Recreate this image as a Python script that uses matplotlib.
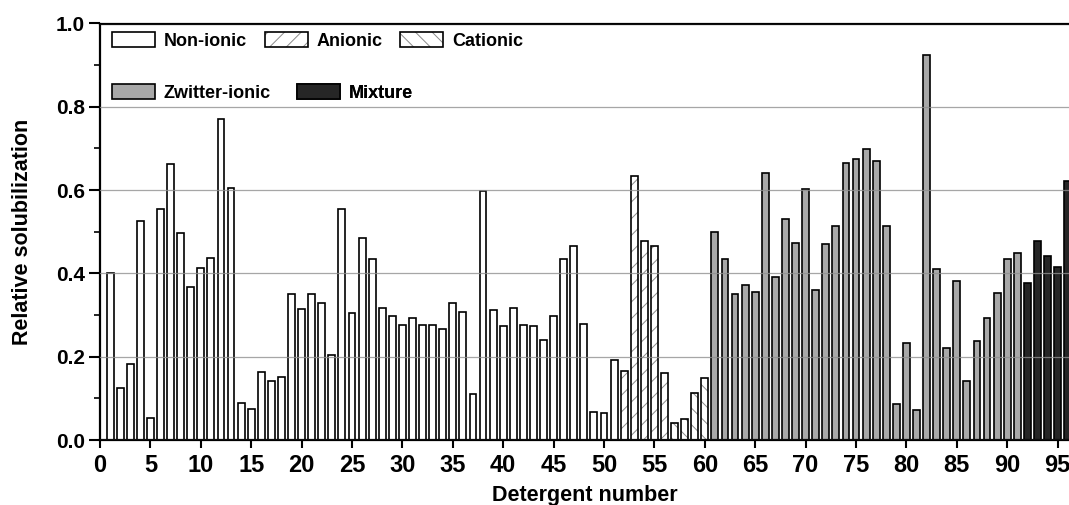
import matplotlib
matplotlib.use("Agg")
import matplotlib.pyplot as plt
from matplotlib.ticker import MultipleLocator
from matplotlib.legend_handler import HandlerTuple

# relative solubilization per detergent, grouped by detergent class
nonionic_ids = list(range(1, 52))
nonionic_vals = [0.400, 0.126, 0.182, 0.525, 0.054, 0.554, 0.662, 0.498, 0.367, 0.414,
                 0.438, 0.770, 0.606, 0.090, 0.075, 0.163, 0.142, 0.152, 0.350, 0.314,
                 0.350, 0.329, 0.203, 0.554, 0.305, 0.485, 0.434, 0.317, 0.298, 0.275,
                 0.294, 0.276, 0.277, 0.266, 0.328, 0.307, 0.110, 0.599, 0.312, 0.274,
                 0.317, 0.275, 0.274, 0.240, 0.298, 0.434, 0.466, 0.279, 0.068, 0.066,
                 0.191]
anionic_ids = [52, 53, 54, 55, 56]
anionic_vals = [0.166, 0.634, 0.478, 0.466, 0.161]
cationic_ids = [57, 58, 59, 60]
cationic_vals = [0.042, 0.051, 0.114, 0.150]
zwitter_ids = list(range(61, 92))
zwitter_vals = [0.500, 0.435, 0.350, 0.371, 0.356, 0.642, 0.391, 0.530, 0.474, 0.602,
                0.359, 0.470, 0.514, 0.665, 0.674, 0.698, 0.669, 0.514, 0.086, 0.232,
                0.072, 0.925, 0.411, 0.222, 0.381, 0.142, 0.238, 0.293, 0.354, 0.434,
                0.450]
mixture_ids = [92, 93, 94, 95, 96]
mixture_vals = [0.377, 0.477, 0.441, 0.416, 0.622]

plt.rcParams['font.family'] = ['Liberation Sans', 'DejaVu Sans']
plt.rcParams['font.weight'] = 'bold'
plt.rcParams['hatch.linewidth'] = 0.7

W, H = 1069, 505
fig = plt.figure(figsize=(W / 100, H / 100), dpi=100)
ax = fig.add_axes([100 / W, 65 / H, 969 / W, (440 - 23.5) / H])

bw = 0.68
ew = 1.2


def hatched_bars(ids, vals, hatch):
    # gray hatch underneath, black outline on top
    fill = ax.bar(ids, vals, width=bw, color='white', edgecolor='#8a8a8a',
                  linewidth=0, hatch=hatch)
    edge = ax.bar(ids, vals, width=bw, fill=False, edgecolor='black', linewidth=ew)
    return (fill, edge)


b_non = ax.bar(nonionic_ids, nonionic_vals, width=bw, color='white', edgecolor='black',
               linewidth=ew)
b_an = hatched_bars(anionic_ids, anionic_vals, '//')
b_cat = hatched_bars(cationic_ids, cationic_vals, '\\\\')
b_zw = ax.bar(zwitter_ids, zwitter_vals, width=bw, color='#a8a8a8', edgecolor='black',
              linewidth=ew)
b_mix = ax.bar(mixture_ids, mixture_vals, width=bw, color='#262626', edgecolor='black',
               linewidth=ew)

ax.set_xlim(0, 96.13)
ax.set_ylim(0, 1.0)
ax.xaxis.set_major_locator(MultipleLocator(5))
ax.yaxis.set_major_locator(MultipleLocator(0.2))
ax.yaxis.set_minor_locator(MultipleLocator(0.1))
ax.yaxis.set_major_formatter(plt.FuncFormatter(lambda v, p: f"{v:.1f}"))

ax.grid(axis='y', color='#909090', linewidth=0.9, alpha=0.8)
ax.set_axisbelow(False)

for s in ['left', 'bottom', 'top']:
    ax.spines[s].set_linewidth(1.6)
ax.spines['right'].set_visible(False)

ax.tick_params(axis='y', which='major', direction='out', length=8, width=1.5, pad=3,
               labelsize=15)
ax.tick_params(axis='y', which='minor', direction='out', length=4, width=1.2)
ax.tick_params(axis='x', which='major', direction='out', length=6, width=1.5, pad=4)
for lab in ax.get_xticklabels():
    lab.set_family(['Liberation Sans Narrow', 'Liberation Sans'])
    lab.set_fontsize(17)
    lab.set_fontweight('bold')

ax.set_xlabel('Detergent number', fontsize=15.5, fontweight='bold', labelpad=6)
ax.set_ylabel('Relative solubilization', fontsize=15.5, fontweight='bold', labelpad=16)

# legend entries placed like the original (two rows, free spacing)
spots = [(b_non, 'Non-ionic', 112, 41), (b_an, 'Anionic', 265, 41),
         (b_cat, 'Cationic', 400, 41), (b_zw, 'Zwitter-ionic', 112, 93),
         (b_mix, 'Mixture', 297, 93)]
for handle, name, px, py in spots:
    leg = ax.legend([handle], [name], loc='center left',
                    bbox_to_anchor=(px / W, 1 - py / H), bbox_transform=fig.transFigure,
                    frameon=False, fontsize=13, borderpad=0, borderaxespad=0,
                    handlelength=2.38, handleheight=0.94, handletextpad=0.5,
                    handler_map={tuple: HandlerTuple(ndivide=1, pad=0)})
    for t in leg.get_texts():
        t.set_fontweight('bold')
    ax.add_artist(leg)

fig.savefig('out.png', dpi=100)
